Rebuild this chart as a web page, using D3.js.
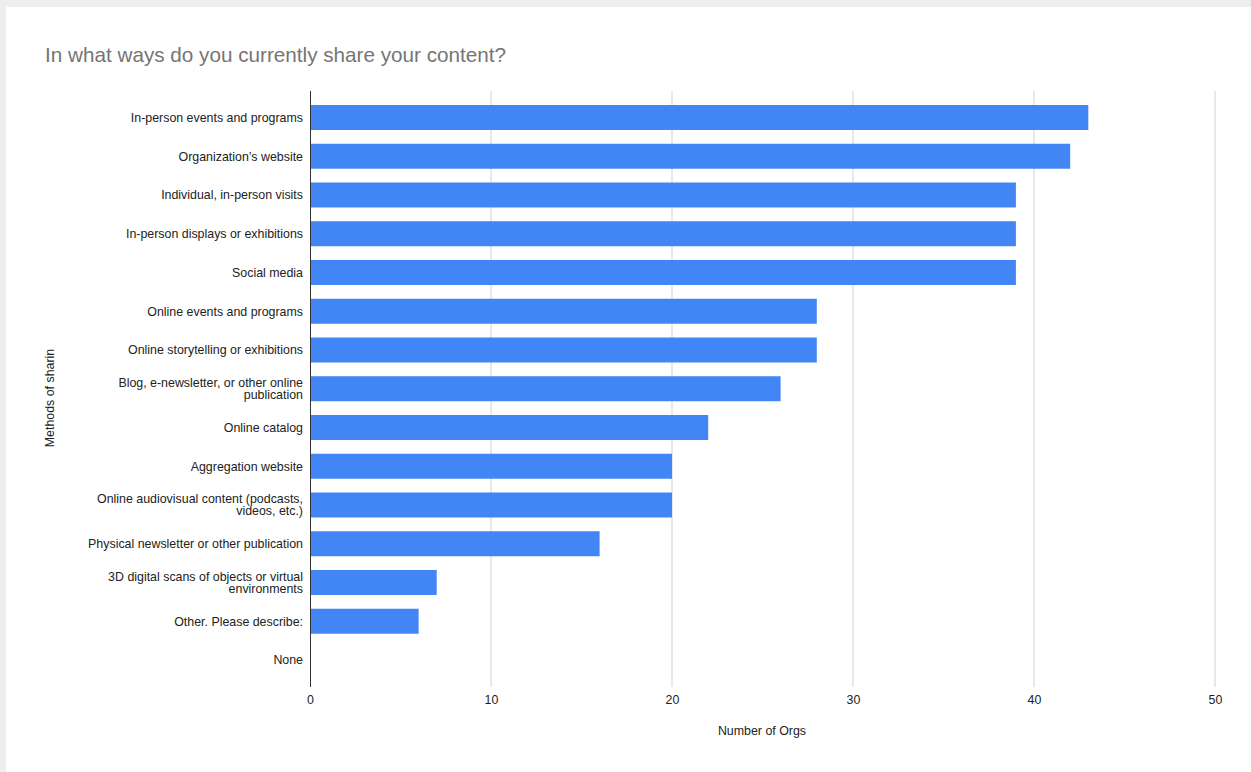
<!DOCTYPE html>
<html>
<head>
<meta charset="utf-8">
<script src="https://cdn.jsdelivr.net/npm/d3@7"></script>
<style>
  html, body { margin: 0; padding: 0; background: #eeeeee; }
  svg { display: block; font-family: "Liberation Sans", Arial, sans-serif; }
</style>
</head>
<body>
<script>
// Survey responses: ways organizations share their content
const categories = [
  ["In-person events and programs"],
  ["Organization\u2019s website"],
  ["Individual, in-person visits"],
  ["In-person displays or exhibitions"],
  ["Social media"],
  ["Online events and programs"],
  ["Online storytelling or exhibitions"],
  ["Blog, e-newsletter, or other online", "publication"],
  ["Online catalog"],
  ["Aggregation website"],
  ["Online audiovisual content (podcasts,", "videos, etc.)"],
  ["Physical newsletter or other publication"],
  ["3D digital scans of objects or virtual", "environments"],
  ["Other. Please describe:"],
  ["None"]
];
const counts = [43, 42, 39, 39, 39, 28, 28, 26, 22, 20, 20, 16, 7, 6, 0];
const xTicks = [0, 10, 20, 30, 40, 50];

const chartTitle = "In what ways do you currently share your content?";
const xTitle = "Number of Orgs";
const yTitle = "Methods of sharin";

const W = 1251, H = 772;
const svg = d3.select("body").append("svg").attr("width", W).attr("height", H);

// white card
svg.append("rect").attr("x", 6).attr("y", 7).attr("width", W - 6).attr("height", H - 7).attr("fill", "#ffffff");

const plotTop = 91, plotBottom = 687;
const x = d3.scaleLinear().domain([0, 50]).range([310, 1215]);
const keys = categories.map((c, i) => i);
const y = d3.scaleBand().domain(keys).range([98.1, 679.4]).paddingInner(0.355).paddingOuter(0.178);

// vertical gridlines
svg.append("g").selectAll("line").data(xTicks.filter(t => t > 0)).join("line")
  .attr("x1", d => x(d)).attr("x2", d => x(d))
  .attr("y1", plotTop).attr("y2", plotBottom)
  .attr("stroke", "#d9d9d9").attr("stroke-width", 1.2);

// bars
svg.append("g").selectAll("rect").data(counts).join("rect")
  .attr("x", x(0))
  .attr("y", (d, i) => y(i))
  .attr("width", d => x(d) - x(0))
  .attr("height", y.bandwidth())
  .attr("fill", "#4285f4");

// x axis tick labels
const xAxis = d3.axisBottom(x).tickValues(xTicks).tickSize(0).tickPadding(0).tickFormat(d3.format("d"));
const gx = svg.append("g").attr("transform", `translate(0,${plotBottom})`).call(xAxis);
gx.select(".domain").remove();
gx.selectAll("text").attr("font-size", 12.4).attr("fill", "#222").attr("dy", "0").attr("y", 16.5)
  .attr("font-family", "Liberation Sans, Arial, sans-serif");

// y axis baseline
svg.append("line").attr("x1", x(0) + 0.5).attr("x2", x(0) + 0.5)
  .attr("y1", plotTop).attr("y2", plotBottom)
  .attr("stroke", "#333").attr("stroke-width", 1);

// y axis category labels (wrapped where needed)
const gy = svg.append("g");
categories.forEach((lines, i) => {
  const cy = y(i) + y.bandwidth() / 2;
  const lh = 12;
  const t = gy.append("text")
    .attr("text-anchor", "end")
    .attr("font-size", 12.4)
    .attr("fill", "#222");
  lines.forEach((ln, j) => {
    t.append("tspan").attr("x", 303)
      .attr("y", cy + (j - (lines.length - 1) / 2) * lh + 4.3)
      .text(ln);
  });
});

// title
svg.append("text").attr("x", 45).attr("y", 62)
  .attr("font-size", 20.7).attr("fill", "#757575").text(chartTitle);

// axis titles
svg.append("text").attr("x", 762).attr("y", 735).attr("text-anchor", "middle")
  .attr("font-size", 12.4).attr("fill", "#222").text(xTitle);

svg.append("text").attr("transform", `translate(54,${398}) rotate(-90)`)
  .attr("text-anchor", "middle").attr("font-size", 12.4).attr("fill", "#222").text(yTitle);
</script>
</body>
</html>
